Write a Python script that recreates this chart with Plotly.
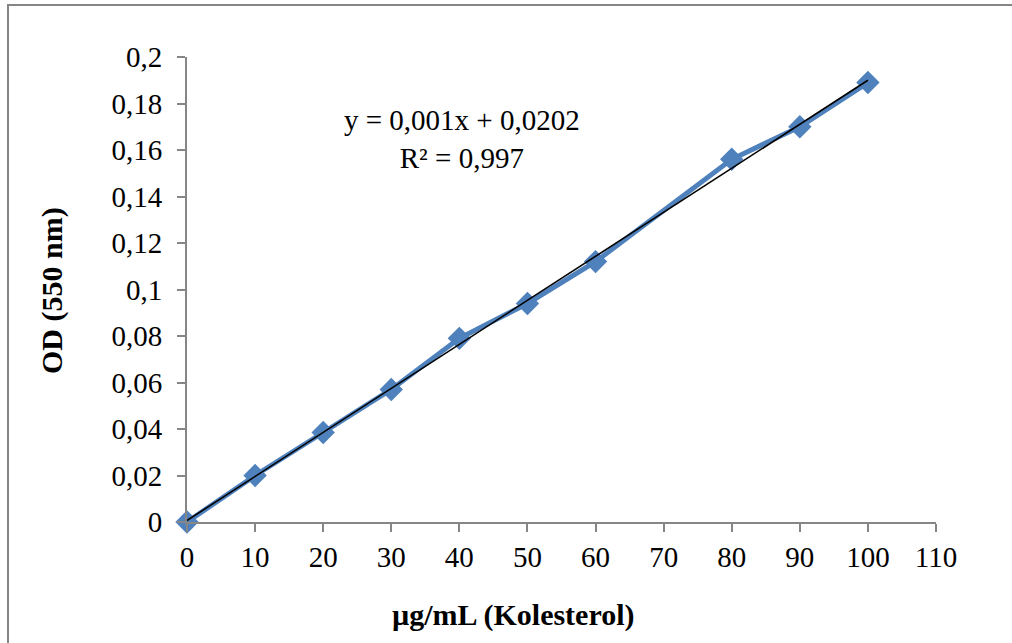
import numpy as np
import plotly.graph_objects as go

conc = [0, 10, 20, 30, 40, 50, 60, 80, 90, 100]
od = [0.0, 0.020, 0.0385, 0.057, 0.079, 0.094, 0.112, 0.156, 0.170, 0.189]
equation_text = "y = 0,001x + 0,0202<br>R² = 0,997"
x_title = "µg/mL (Kolesterol)"
y_title = "OD (550 nm)"

slope, intercept = np.polyfit(conc, od, 1)
trend_x = [min(conc), max(conc)]
trend_y = [slope * v + intercept for v in trend_x]

FONT = "Liberation Serif, Times New Roman, serif"
AX = "#868686"

fig = go.Figure()
fig.add_trace(go.Scatter(
    x=conc, y=od, mode="lines+markers",
    line=dict(color="#4F81BD", width=5),
    marker=dict(symbol="diamond", size=18, color="#4F81BD"),
    showlegend=False, cliponaxis=False,
))
fig.add_trace(go.Scatter(
    x=trend_x, y=trend_y, mode="lines",
    line=dict(color="black", width=1.6),
    showlegend=False, cliponaxis=False,
))

W, H = 1012, 643
L, R, T, B = 187, 76, 57, 121
pw, ph = W - L - R, H - T - B

def px(xp):
    return (xp - L) / pw

def py(yp):
    return (T + ph - yp) / ph

fig.update_layout(
    width=W, height=H,
    margin=dict(l=L, r=R, t=T, b=B),
    paper_bgcolor="white", plot_bgcolor="white",
    separators=",.",
    font=dict(family=FONT, size=29, color="black"),
    xaxis=dict(
        range=[0, 110], tickmode="linear", tick0=0, dtick=10,
        showgrid=False, zeroline=False, showline=True, linecolor=AX, linewidth=2,
        ticks="outside", ticklen=8, tickcolor=AX, tickwidth=2,
        tickfont=dict(family=FONT, size=29),
    ),
    yaxis=dict(
        range=[0, 0.2], tickmode="linear", tick0=0, dtick=0.02,
        showgrid=False, zeroline=False, showline=True, linecolor=AX, linewidth=2,
        ticks="outside", ticklen=8, tickcolor=AX, tickwidth=2,
        ticklabelstandoff=9,
        tickfont=dict(family=FONT, size=29),
    ),
    shapes=[dict(
        type="rect", xref="paper", yref="paper",
        x0=px(8), x1=px(W + 20),
        y0=py(H + 20), y1=py(5),
        line=dict(color=AX, width=2), fillcolor="rgba(0,0,0,0)", layer="below",
    )],
    annotations=[
        dict(
            text=equation_text, xref="paper", yref="paper",
            x=px(462), y=py(139), xanchor="center", yanchor="middle",
            showarrow=False, align="center",
            font=dict(family=FONT, size=29, color="black"),
        ),
        dict(
            text="<b>" + x_title + "</b>", xref="paper", yref="paper",
            x=px(513), y=py(615), xanchor="center", yanchor="middle",
            showarrow=False, font=dict(family=FONT, size=30, color="black"),
        ),
        dict(
            text="<b>" + y_title + "</b>", xref="paper", yref="paper",
            x=px(52), y=py(291), xanchor="center", yanchor="middle",
            showarrow=False, textangle=-90,
            font=dict(family=FONT, size=30, color="black"),
        ),
    ],
)

fig.write_html("out.html")
